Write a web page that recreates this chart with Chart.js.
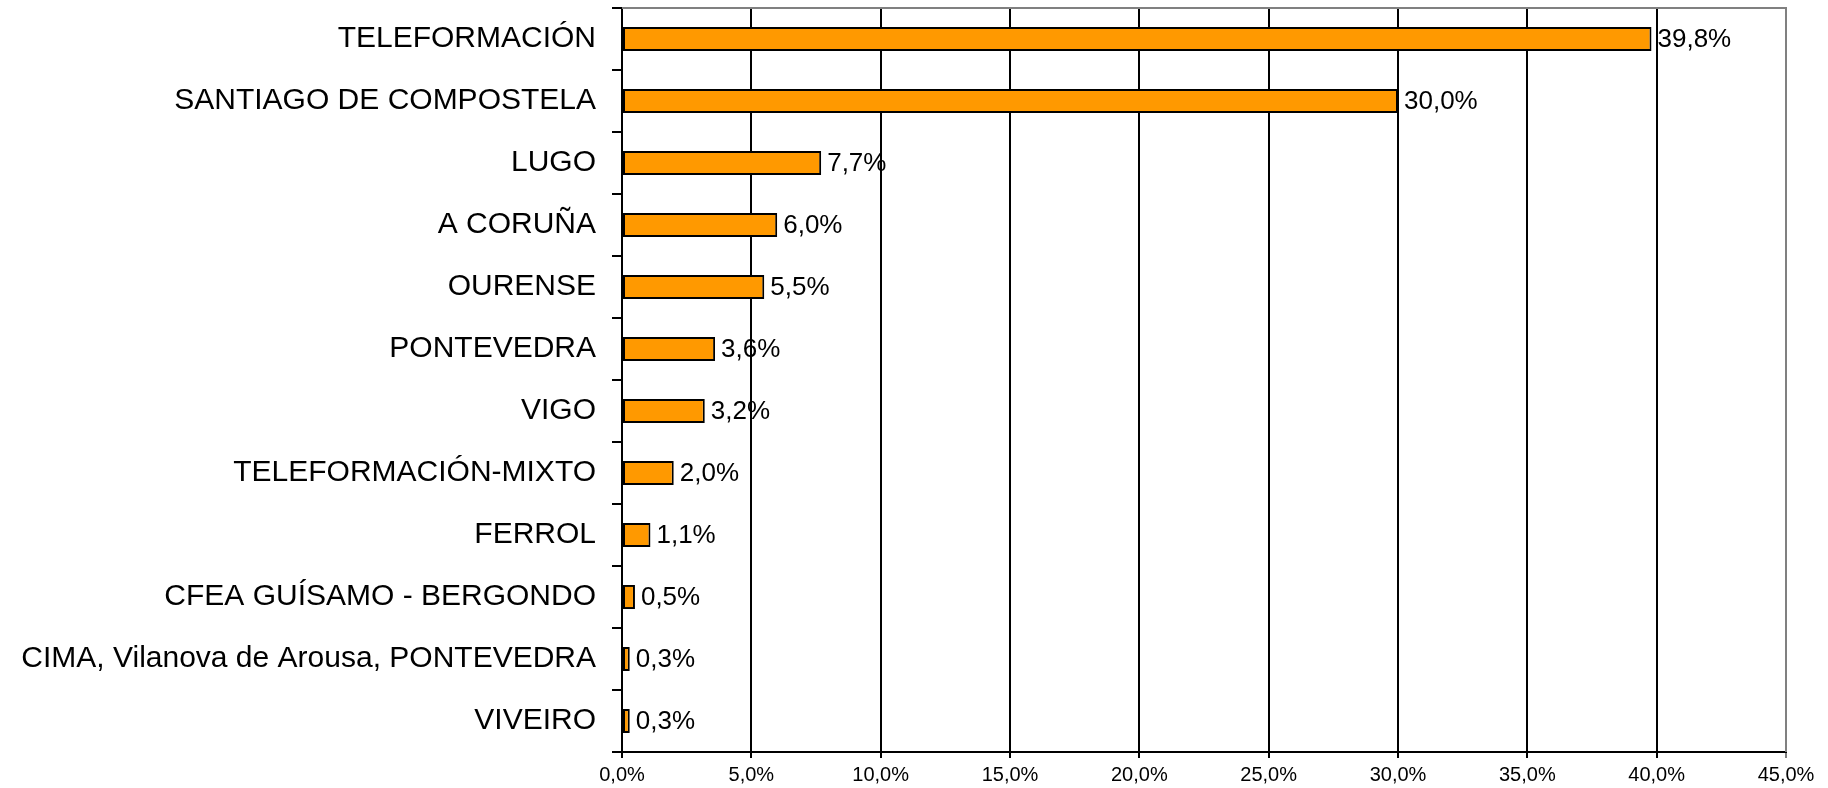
<!DOCTYPE html>
<html>
<head>
<meta charset="utf-8">
<script src="https://cdn.jsdelivr.net/npm/chart.js@4.4.1/dist/chart.umd.min.js"></script>
<style>
	html, body { margin: 0; padding: 0; background: #fff; }
	#wrap { width: 1828px; height: 788px; }
</style>
</head>
<body>
<div id="wrap"><canvas id="barChart" width="1828" height="788"></canvas></div>
<script>
var FONT_FAMILY = "'Liberation Sans', Arial, sans-serif";
var COLOR_BAR = '#FF9900';
var COLOR_FRAME = '#808080';

var centros = ['TELEFORMACIÓN', 'SANTIAGO DE COMPOSTELA', 'LUGO', 'A CORUÑA', 'OURENSE', 'PONTEVEDRA', 'VIGO', 'TELEFORMACIÓN-MIXTO', 'FERROL', 'CFEA GUÍSAMO - BERGONDO', 'CIMA, Vilanova de Arousa, PONTEVEDRA', 'VIVEIRO'];
var porcentajes = [39.8, 30.0, 7.7, 6.0, 5.5, 3.6, 3.2, 2.0, 1.1, 0.5, 0.3, 0.3];
var xMax = 45;
var xStep = 5;

var fmtPct = function(v) {
	return v.toFixed(1).replace('.', ',') + '%';
};

// gray frame on top and right of the plot area
var frameBorder = {
	id: 'frameBorder',
	afterDraw: function(chart) {
		var a = chart.chartArea, c = chart.ctx;
		c.save();
		c.strokeStyle = COLOR_FRAME;
		c.lineWidth = 2;
		c.beginPath();
		c.moveTo(a.left, a.top);
		c.lineTo(a.right, a.top);
		c.lineTo(a.right, a.bottom);
		c.stroke();
		c.restore();
	}
};

// value labels at bar ends
var valueLabels = {
	id: 'valueLabels',
	afterDatasetsDraw: function(chart) {
		var c = chart.ctx;
		var meta = chart.getDatasetMeta(0);
		c.save();
		c.font = '26px ' + FONT_FAMILY;
		c.fillStyle = '#000';
		c.textAlign = 'left';
		c.textBaseline = 'middle';
		meta.data.forEach(function(bar, i) {
			c.fillText(fmtPct(porcentajes[i]), bar.x + 6, bar.y + 1);
		});
		c.restore();
	}
};

var ctx = document.getElementById('barChart');
var barChart = new Chart(ctx, {
	type: 'bar',
	data: {
		labels: centros,
		datasets: [{
			data: porcentajes,
			backgroundColor: COLOR_BAR,
			borderColor: '#000',
			borderWidth: 2,
			borderSkipped: false,
			categoryPercentage: 1,
			barPercentage: 0.39
		}]
	},
	options: {
		indexAxis: 'y',
		responsive: false,
		animation: false,
		devicePixelRatio: 1,
		layout: { padding: { top: 8, right: 42, left: 0, bottom: 0 } },
		plugins: {
			legend: { display: false },
			tooltip: { enabled: false }
		},
		scales: {
			x: {
				min: 0,
				max: xMax,
				position: 'bottom',
				ticks: {
					stepSize: xStep,
					color: '#000',
					font: { family: FONT_FAMILY, size: 20 },
					padding: 5,
					callback: function(v) { return fmtPct(v); }
				},
				grid: {
					color: function(c) { return c.tick && c.tick.value === xMax ? COLOR_FRAME : '#000'; },
					lineWidth: 2,
					tickLength: 6
				},
				border: { color: '#000', width: 2 },
				afterFit: function(scale) { scale.height = 36; }
			},
			y: {
				ticks: {
					color: '#000',
					font: { family: FONT_FAMILY, size: 30 },
					padding: 16
				},
				grid: {
					offset: true,
					drawOnChartArea: false,
					color: '#000',
					lineWidth: 2,
					tickLength: 10
				},
				border: { color: '#000', width: 2 },
				afterFit: function(scale) {
					scale.width = 622;
					scale.paddingTop = 0;
					scale.paddingBottom = 0;
				}
			}
		}
	},
	plugins: [frameBorder, valueLabels]
});
</script>
</body>
</html>
